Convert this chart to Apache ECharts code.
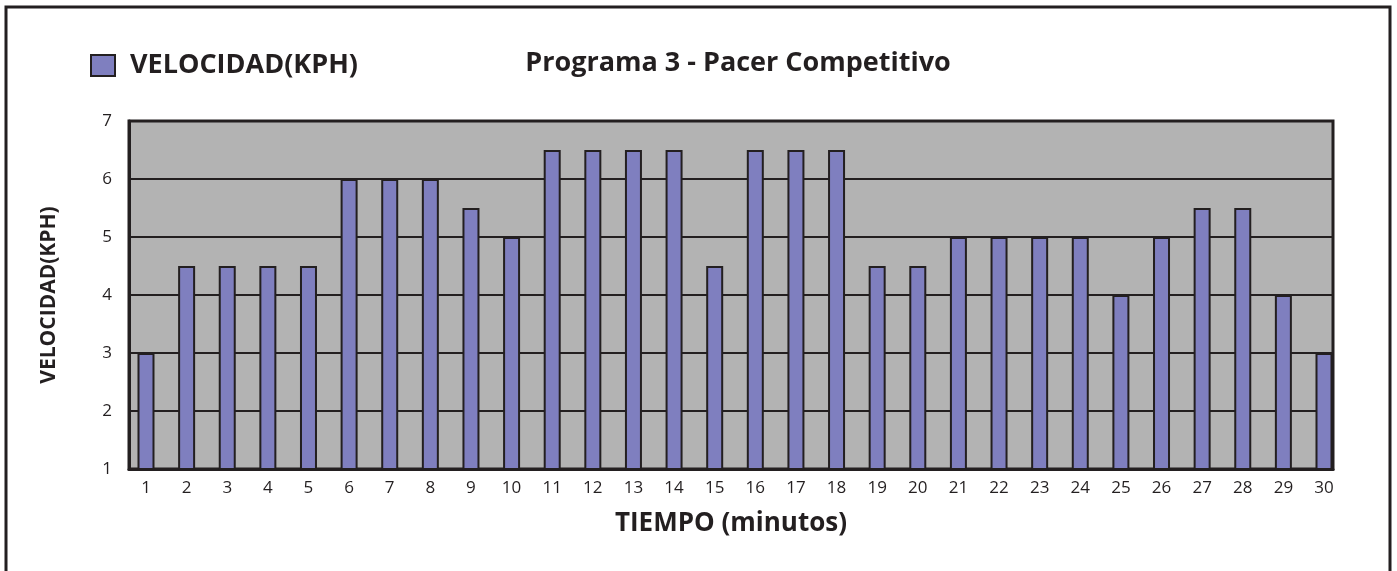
<!DOCTYPE html>
<html>
<head>
<meta charset="utf-8">
<script src="https://cdn.jsdelivr.net/npm/echarts@6/dist/echarts.min.js"></script>
<style>
html,body{margin:0;padding:0;background:#fff;}
#chart{width:1397px;height:571px;}
</style>
</head>
<body>
<div id="chart"></div>
<script>
const titleText = 'Programa 3 - Pacer Competitivo';
const seriesName = 'VELOCIDAD(KPH)';
const xAxisName = 'TIEMPO (minutos)';
const yAxisName = 'VELOCIDAD(KPH)';
const minutes = [1,2,3,4,5,6,7,8,9,10,11,12,13,14,15,16,17,18,19,20,21,22,23,24,25,26,27,28,29,30];
const speeds = [3,4.5,4.5,4.5,4.5,6,6,6,5.5,5,6.5,6.5,6.5,6.5,4.5,6.5,6.5,6.5,4.5,4.5,5,5,5,5,4,5,5.5,5.5,4,3];
const yTicks = [1,2,3,4,5,6,7];

const FONT = '"Open Sans", "Noto Sans", sans-serif';
const INK = '#231f20';

const chart = echarts.init(document.getElementById('chart'), null, {renderer: 'canvas'});
chart.setOption({
  animation: false,
  backgroundColor: '#ffffff',
  graphic: [{
    type: 'rect',
    shape: {x: 6, y: 7, width: 1384, height: 600},
    style: {fill: 'none', stroke: INK, lineWidth: 3},
    z: 100
  }],
  title: {
    text: titleText,
    left: 733,
    textAlign: 'center',
    top: 45,
    textStyle: {fontFamily: FONT, fontWeight: 'bold', fontSize: 27, color: INK}
  },
  legend: {
    left: 85,
    top: 47,
    icon: 'rect',
    itemWidth: 24,
    itemHeight: 21,
    data: [seriesName],
    textStyle: {fontFamily: FONT, fontWeight: 'bold', fontSize: 27, color: INK, padding: [0, 0, 0, 10]}
  },
  grid: {
    left: 129, top: 121, width: 1204, height: 348,
    show: true,
    backgroundColor: '#b3b3b3',
    borderColor: INK,
    borderWidth: 3
  },
  xAxis: {
    type: 'value',
    min: 0.5815,
    max: 30.2216,
    name: xAxisName,
    nameLocation: 'middle',
    nameGap: 42,
    nameTextStyle: {fontFamily: FONT, fontWeight: 'bold', fontSize: 26, color: INK},
    axisLine: {show: true, lineStyle: {color: INK, width: 3}},
    axisTick: {show: false},
    splitLine: {show: false},
    axisLabel: {
      customValues: minutes,
      margin: 11,
      fontFamily: FONT, fontSize: 17, color: INK,
      formatter: v => String(v)
    }
  },
  yAxis: {
    type: 'value',
    min: 1, max: 7, interval: 1,
    name: yAxisName,
    nameLocation: 'middle',
    nameRotate: 90,
    nameGap: 69,
    nameTextStyle: {fontFamily: FONT, fontWeight: 'bold', fontSize: 21, color: INK},
    axisLine: {show: true, lineStyle: {color: INK, width: 3}},
    axisTick: {show: false},
    axisLabel: {margin: 17, fontFamily: FONT, fontSize: 17, color: INK},
    splitLine: {show: true, lineStyle: {color: INK, width: 2}}
  },
  series: [{
    name: seriesName,
    type: 'bar',
    barWidth: 17,
    data: minutes.map((m, i) => [m, speeds[i]]),
    itemStyle: {color: '#7f7fbf', borderColor: INK, borderWidth: 2}
  }]
});
</script>
</body>
</html>
